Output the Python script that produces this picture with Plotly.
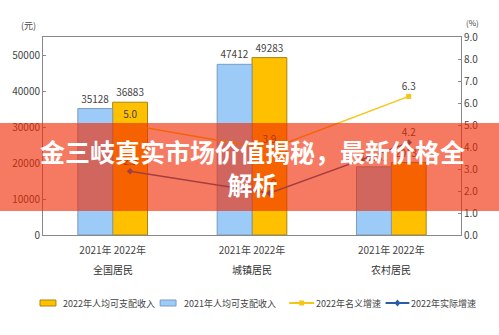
import plotly.graph_objects as go

groups = ["全国居民", "城镇居民", "农村居民"]
income_2021 = [35128, 47412, 18931]
income_2022 = [36883, 49283, 20133]
nominal_growth = [5.0, 3.9, 6.3]
real_growth = [2.9, 1.9, 4.2]
year_ticks = ["2021年 2022年"] * 3
left_ticks = [0, 10000, 20000, 30000, 40000, 50000]
right_ticks = [0, 1, 2, 3, 4, 5, 6, 7, 8, 9]
series_names = ["2022年人均可支配收入", "2021年人均可支配收入", "2022年名义增速", "2022年实际增速"]

font_main = "Noto Sans CJK SC, DejaVu Sans, sans-serif"
C_2022 = "#ffc000"
C_2021 = "#9dcbf7"
C_NOM = "#f5c518"
C_REAL = "#2a5caa"

W, H = 499, 335
ML, MR, MT, MB = 40, 38, 37, 100
PW, PH = W - ML - MR, H - MT - MB


def px(x):
    return (x - ML) / PW


def py(y):
    return (H - MB - y) / PH


idx = list(range(len(groups)))
bw = 0.25
line_x = [i + bw / 2 for i in idx]

fig = go.Figure()
fig.add_trace(go.Bar(
    x=idx, y=income_2022, name=series_names[0], width=bw, offset=0,
    marker=dict(color=C_2022, line=dict(color="#a8860a", width=1)),
    text=[str(v) for v in income_2022], textposition="outside",
    textfont=dict(size=10, color="#444"), cliponaxis=False,
))
fig.add_trace(go.Bar(
    x=idx, y=income_2021, name=series_names[1], width=bw, offset=-bw,
    marker=dict(color=C_2021, line=dict(color="#7d9cc0", width=1)),
    text=[str(v) for v in income_2021], textposition="outside",
    textfont=dict(size=10, color="#444"), cliponaxis=False,
))
fig.add_trace(go.Scatter(
    x=line_x, y=nominal_growth, name=series_names[2], yaxis="y2",
    mode="lines+markers+text", line=dict(color=C_NOM, width=1.5),
    marker=dict(symbol="square", size=5, color=C_NOM),
    text=[f"{v:.1f}" for v in nominal_growth], textposition="top center",
    textfont=dict(size=10, color="#444"), cliponaxis=False,
))
fig.add_trace(go.Scatter(
    x=line_x, y=real_growth, name=series_names[3], yaxis="y2",
    mode="lines+markers+text", line=dict(color=C_REAL, width=1.5),
    marker=dict(symbol="diamond", size=5, color=C_REAL),
    text=[f"{v:.1f}" for v in real_growth], textposition="top center",
    textfont=dict(size=10, color="#444"), cliponaxis=False,
))

for i, g in zip(idx, groups):
    fig.add_annotation(x=i, y=py(269), xref="x", yref="paper", text=g,
                       showarrow=False, font=dict(size=10, color="#333"),
                       yanchor="middle")

fig.add_annotation(x=px(35), y=py(25), xref="paper", yref="paper", text="(元)",
                   showarrow=False, font=dict(size=9, color="#444"),
                   xanchor="right", yanchor="middle")
fig.add_annotation(x=px(464), y=py(22), xref="paper", yref="paper", text="(%)",
                   showarrow=False, font=dict(size=8, color="#444"),
                   xanchor="left", yanchor="middle")

# custom legend (one row, as in the reference)
ly = 303
# bar entries
for (x0, x1, tx), col, edge, name in [((37, 53, 58), C_2022, "#a8860a", series_names[0]),
                                       ((158, 174, 180), C_2021, "#7d9cc0", series_names[1])]:
    fig.add_shape(type="rect", xref="paper", yref="paper", x0=px(x0), x1=px(x1),
                  y0=py(ly + 3), y1=py(ly - 3), fillcolor=col, line=dict(color=edge, width=1))
    fig.add_annotation(x=px(tx), y=py(ly), xref="paper", yref="paper", text=name,
                       showarrow=False, xanchor="left", yanchor="middle",
                       font=dict(size=9, color="#444"))
# line entries
for (x0, x1, tx), col, sym, name in [((288, 313, 313), C_NOM, "square", series_names[2]),
                                      ((385, 409, 409), C_REAL, "diamond", series_names[3])]:
    fig.add_shape(type="line", xref="paper", yref="paper", x0=px(x0), x1=px(x1),
                  y0=py(ly), y1=py(ly), line=dict(color=col, width=2))
    cx = (x0 + x1) / 2
    if sym == "square":
        fig.add_shape(type="rect", xref="paper", yref="paper", x0=px(cx - 2.5), x1=px(cx + 2.5),
                      y0=py(ly + 2.5), y1=py(ly - 2.5), fillcolor=col, line=dict(width=0))
    else:
        fig.add_shape(type="path", xref="paper", yref="paper",
                      path=f"M {px(cx)} {py(ly - 3.5)} L {px(cx + 3)} {py(ly)} L {px(cx)} {py(ly + 3.5)} L {px(cx - 3)} {py(ly)} Z",
                      fillcolor=col, line=dict(width=0))
    fig.add_annotation(x=px(tx), y=py(ly), xref="paper", yref="paper", text=name,
                       showarrow=False, xanchor="left", yanchor="middle",
                       font=dict(size=9, color="#444"))

# banner overlay
fig.add_shape(type="rect", xref="paper", yref="paper", x0=-0.2, x1=1.2,
              y0=py(211), y1=py(123),
              fillcolor="rgba(240,40,0,0.62)", line=dict(width=0), layer="above")
fig.add_annotation(x=0.5, y=py(167), xref="paper", yref="paper",
                   text="<b>金三岐真实市场价值揭秘，最新价格全<br>解析</b>",
                   showarrow=False, font=dict(size=25, color="white", family=font_main),
                   align="center", yanchor="middle")

fig.update_layout(
    width=W, height=H,
    margin=dict(l=ML, r=MR, t=MT, b=MB),
    paper_bgcolor="white", plot_bgcolor="white",
    font=dict(family=font_main, size=10, color="#444"),
    barmode="overlay",
    showlegend=False,
    xaxis=dict(range=[-0.5, 2.5], tickvals=idx, ticktext=year_ticks,
               showline=True, linecolor="#888", linewidth=1, mirror=True,
               ticks="", showgrid=False, zeroline=False, ticklabelstandoff=6,
               tickfont=dict(size=10, color="#444")),
    yaxis=dict(range=[0, 55000], tickvals=left_ticks, tickformat="d", showline=True,
               linecolor="#888", linewidth=1, ticks="inside", ticklen=3, tickcolor="#888",
               showgrid=False, zeroline=False, tickfont=dict(size=10, color="#444")),
    yaxis2=dict(range=[0, 9], tickvals=right_ticks, tickformat=".1f", overlaying="y",
                side="right", showline=True, linecolor="#888", linewidth=1,
                ticks="inside", ticklen=3, tickcolor="#888", showgrid=False,
                zeroline=False, tickfont=dict(size=10, color="#444")),
)

fig.write_html("out.html")
